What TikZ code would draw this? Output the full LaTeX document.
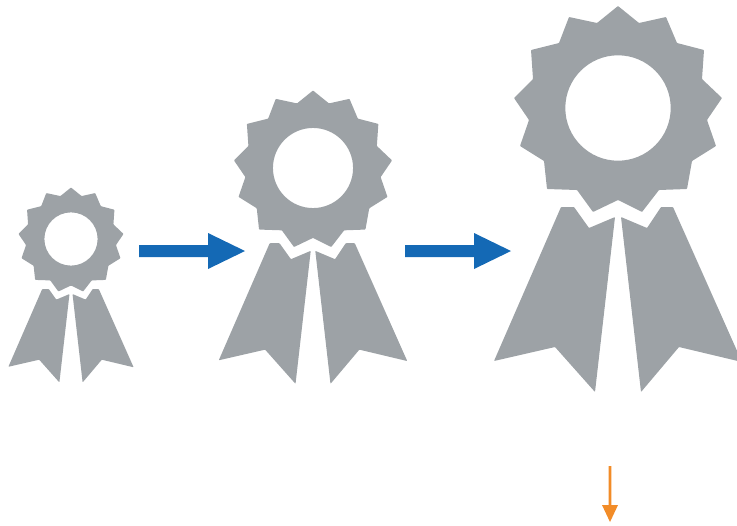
\documentclass[tikz,border=0pt]{standalone}
\definecolor{badgegrey}{HTML}{9DA2A6}
\definecolor{arrowblue}{HTML}{1469B5}
\definecolor{arroworange}{HTML}{F28C28}
\tikzset{
  px/.style={x=0.75pt,y=-0.75pt},
  badgepart/.style={fill=badgegrey,draw=none,rounded corners=0.5pt},
  blueshape/.style={fill=arrowblue,draw=none},
  orangeshape/.style={fill=arroworange,draw=none}
}
\newcommand{\badgeshape}{%
  \fill[badgepart,even odd rule] (618,6) -- (639,23) -- (666,17) -- (677,43) -- (704,50) -- (702,79) -- (722,98) -- (707,120) -- (716,146) -- (692,161) -- (687,189) -- (659,190) -- (642,212) -- (618,200) -- (593,212) -- (577,190) -- (547,189) -- (544,161) -- (520,146) -- (529,120) -- (514,98) -- (533,79) -- (531,50) -- (559,43) -- (569,17) -- (597,23) -- cycle
  (618,108) circle[radius=52.7];
  \fill[badgepart] (561,207) -- (574,207) -- (589,228) -- (615,217) -- (595,392) -- (555,347) -- (494,361) -- cycle;
  \fill[badgepart] (621,217) -- (647,228) -- (661,207) -- (673,207) -- (742,362) -- (679,347) -- (641,392) -- cycle;
}
\begin{document}
\begin{tikzpicture}[px]
\useasboundingbox (0,0) rectangle (737,525);
\clip (0,0) rectangle (737,525);
% large badge
\begin{scope}
  \badgeshape
\end{scope}
% medium badge
\begin{scope}[shift={(313,168)},scale=0.76,shift={(-618,-108)}]
  \badgeshape
\end{scope}
% small badge
\begin{scope}[shift={(71,239)},scale=0.505,shift={(-618,-108)}]
  \badgeshape
\end{scope}
% blue arrows
\fill[blueshape] (139,245) -- (208,245) -- (208,233) -- (245,251) -- (208,269) -- (208,257) -- (139,257) -- cycle;
\fill[blueshape] (405,245) -- (474,245) -- (474,233) -- (511,251) -- (474,269) -- (474,257) -- (405,257) -- cycle;
% orange arrow
\fill[orangeshape] (608.7,466) -- (611.3,466) -- (611.3,505) -- (618,505) -- (610,522) -- (602,505) -- (608.7,505) -- cycle;
\end{tikzpicture}
\end{document}
